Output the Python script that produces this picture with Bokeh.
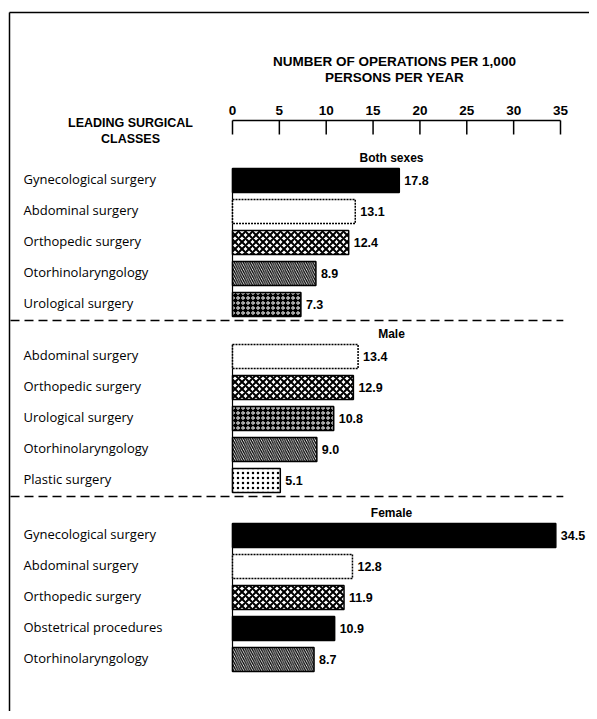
from bokeh.plotting import figure
from bokeh.models import Range1d
from bokeh.core.properties import value
from bokeh.embed import file_html
from bokeh.resources import INLINE

# ---------------- data ----------------
group_names = ["Both sexes", "Male", "Female"]

both_labels = ["Gynecological surgery", "Abdominal surgery", "Orthopedic surgery",
               "Otorhinolaryngology", "Urological surgery"]
both_values = [17.8, 13.1, 12.4, 8.9, 7.3]

male_labels = ["Abdominal surgery", "Orthopedic surgery", "Urological surgery",
               "Otorhinolaryngology", "Plastic surgery"]
male_values = [13.4, 12.9, 10.8, 9.0, 5.1]

female_labels = ["Gynecological surgery", "Abdominal surgery", "Orthopedic surgery",
                 "Obstetrical procedures", "Otorhinolaryngology"]
female_values = [34.5, 12.8, 11.9, 10.9, 8.7]

tick_values = [0, 5, 10, 15, 20, 25, 30, 35]
tick_labels = ["0", "5", "10", "15", "20", "25", "30", "35"]

title_lines = ["NUMBER OF OPERATIONS PER 1,000", "PERSONS PER YEAR"]
ylabel_lines = ["LEADING SURGICAL", "CLASSES"]

# ---------------- styles ----------------
styles = {
    "Gynecological surgery": dict(fill_color="black"),
    "Obstetrical procedures": dict(fill_color="black"),
    "Abdominal surgery": dict(fill_color="white", line_dash="2 1"),
    "Orthopedic surgery": dict(fill_color="white", hatch_pattern="diagonal_cross",
                               hatch_color="black", hatch_scale=7, hatch_weight=2),
    "Otorhinolaryngology": dict(fill_color="white", hatch_pattern="left_diagonal_line",
                                hatch_color="black", hatch_scale=4.5, hatch_weight=1.3),
    "Urological surgery": dict(fill_color="black", hatch_pattern="ring",
                               hatch_color="white", hatch_scale=5, hatch_weight=1),
    "Plastic surgery": dict(fill_color="white", hatch_pattern="dot",
                            hatch_color="black", hatch_scale=5, hatch_weight=2),
}

# ---------------- layout ----------------
W, H = 589, 711
k = 328 / 35                   # pixels per unit
x0 = -232 / k
x1 = x0 + W / k

def px(sx):
    return x0 + sx / k

p = figure(width=W, height=H, output_backend="svg", toolbar_location=None,
           x_range=Range1d(x0, x1), y_range=Range1d(H, 0),
           x_axis_type=None, y_axis_type=None, min_border=0,
           outline_line_color=None, background_fill_color="white",
           border_fill_color="white")
p.xgrid.visible = False
p.ygrid.visible = False

SANS = value("Liberation Sans")
CAT = value("Open Sans")

# frame lines (top and left)
p.segment(x0=[px(9)], y0=[12], x1=[x1], y1=[12], line_color="black", line_width=1.5)
p.segment(x0=[px(9)], y0=[12], x1=[px(9)], y1=[H], line_color="black", line_width=1.5)

# title
p.text(x=[px(394)] * 2, y=[61, 77], text=title_lines, text_font=SANS,
       text_font_size="13.5px", text_font_style="bold", text_align="center",
       text_baseline="middle", text_color="black")

# axis
p.segment(x0=[0], y0=[120], x1=[35], y1=[120], line_color="black", line_width=1.5)
p.segment(x0=tick_values, y0=[120] * len(tick_values), x1=tick_values,
          y1=[134] * len(tick_values), line_color="black", line_width=1.5)
p.text(x=tick_values, y=[110] * len(tick_values), text=tick_labels, text_font=SANS,
       text_font_size="13.5px", text_font_style="bold", text_align="center",
       text_baseline="middle", text_color="black")

# left heading
p.text(x=[px(130)] * 2, y=[122, 138], text=ylabel_lines, text_font=SANS,
       text_font_size="12.5px", text_font_style="bold", text_align="center",
       text_baseline="middle", text_color="black")

groups = [(both_labels, both_values), (male_labels, male_values),
          (female_labels, female_values)]

starts = [180, 356, 535]
step = 31
bar_h = 24

for g, (labels, vals) in enumerate(groups):
    ys = [starts[g] + i * step for i in range(len(vals))]
    # group header
    p.text(x=[px(391)], y=[ys[0] - 23], text=[group_names[g]], text_font=SANS,
           text_font_size="12px", text_font_style="bold", text_align="center",
           text_baseline="middle", text_color="black")
    # baseline
    p.segment(x0=[0], y0=[ys[0] - bar_h / 2], x1=[0], y1=[ys[-1] + bar_h / 2],
              line_color="black", line_width=1.2)
    for lab, v, y in zip(labels, vals, ys):
        st = dict(styles[lab])
        p.hbar(y=[y], left=[0], right=[v], height=bar_h, line_color="black",
               line_width=1.5, **st)
    # category labels
    p.text(x=[px(23)] * len(labels), y=[y - 2 for y in ys], text=labels, text_font=CAT,
           text_font_size="13px", text_font_style="normal", text_align="left",
           text_baseline="middle", text_color="black")
    # value labels
    p.text(x=vals, y=ys, text=["%.1f" % v for v in vals], x_offset=5, text_font=SANS,
           text_font_size="12.5px", text_font_style="bold", text_align="left",
           text_baseline="middle", text_color="black")
    # dashed separator
    if g < len(groups) - 1:
        ysep = ys[-1] + 16
        p.segment(x0=[px(10)], y0=[ysep], x1=[35.3], y1=[ysep], line_color="black",
                  line_width=1.5, line_dash="9 5")

open("out.html", "w").write(file_html(p, INLINE))
